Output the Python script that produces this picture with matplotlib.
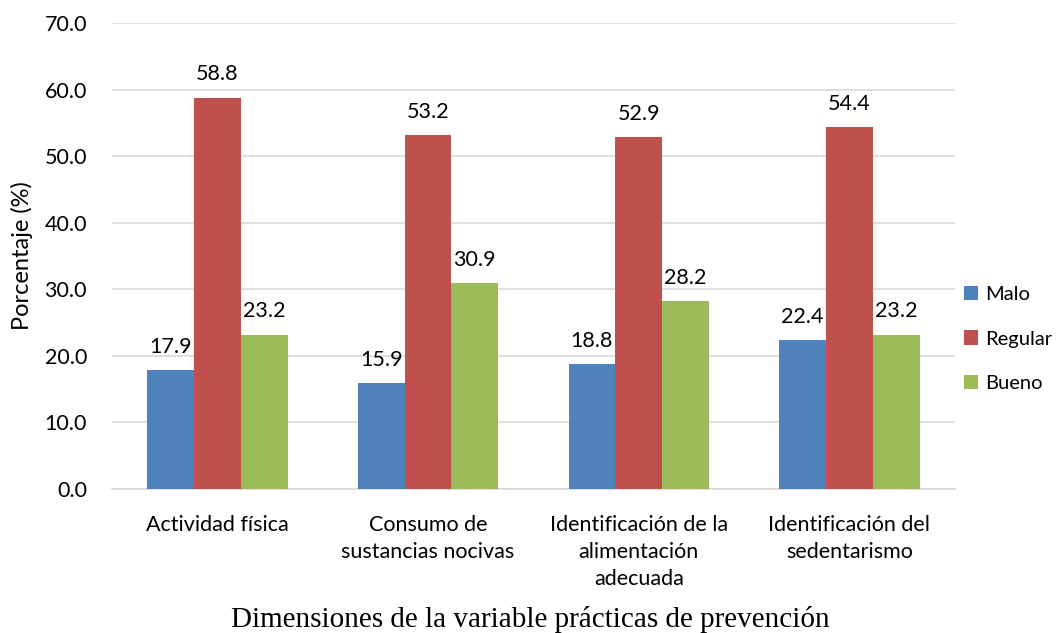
import matplotlib.pyplot as plt
import numpy as np

categorias = ['Actividad física', 'Consumo de\nsustancias nocivas',
              'Identificación de la\nalimentación\nadecuada', 'Identificación del\nsedentarismo']
malo = [17.9, 15.9, 18.8, 22.4]
regular = [58.8, 53.2, 52.9, 54.4]
bueno = [23.2, 30.9, 28.2, 23.2]
series = [('Malo', malo, '#4F81BD'), ('Regular', regular, '#C0504D'), ('Bueno', bueno, '#9BBB59')]

plt.rcParams['font.family'] = ['Lato', 'DejaVu Sans']
fs = 15.5

fig = plt.figure(figsize=(10.6, 6.33), dpi=100)
ax = fig.add_axes([0.1057, 0.2275, 0.795, 0.736])

x = np.arange(len(categorias))
ancho = 1 / 4.5
for i, (nombre, vals, color) in enumerate(series):
    pos = x + (i - 1) * ancho
    barras = ax.bar(pos, vals, ancho, color=color, label=nombre, zorder=3)
    for b, v in zip(barras, vals):
        ax.text(b.get_x() + b.get_width() / 2, v + 2.0, f'{v:.1f}',
                ha='center', va='bottom', fontsize=fs)

ax.set_xlim(-0.5, len(categorias) - 0.5)
ax.set_ylim(0, 70)
ax.set_yticks(np.arange(0, 71, 10))
ax.set_yticklabels([f'{t:.1f}' for t in np.arange(0, 71, 10)], fontsize=fs)
ax.set_xticks(x)
ax.set_xticklabels(categorias, fontsize=fs, linespacing=1.42, va='top')
ax.tick_params(axis='x', length=0, pad=19)
ax.tick_params(axis='y', length=0, pad=18)
ax.grid(axis='y', color='#D9D9D9', linewidth=1.2, zorder=0)
for s in ['top', 'right', 'left']:
    ax.spines[s].set_visible(False)
ax.spines['bottom'].set_color('#D9D9D9')
ax.spines['bottom'].set_linewidth(1.2)

ax.set_ylabel('Porcentaje (%)', fontsize=fs + 1.5, labelpad=8)
fig.text(0.5, 0.009, 'Dimensiones de la variable prácticas de prevención',
         ha='center', va='baseline', fontsize=21, family='Liberation Serif')

ax.legend(loc='center left', bbox_to_anchor=(1.006, 0.322), frameon=False,
          fontsize=14.5, handlelength=0.7, handleheight=0.7, labelspacing=1.38,
          handletextpad=0.35, borderaxespad=0.0, borderpad=0.2)

fig.savefig('out.png', dpi=100)
